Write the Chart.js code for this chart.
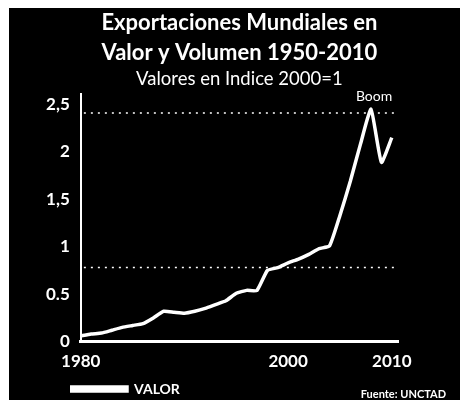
<!DOCTYPE html>
<html>
<head>
<meta charset="utf-8">
<script src="https://cdn.jsdelivr.net/npm/chart.js@4.4.0/dist/chart.umd.min.js"></script>
<style>
  html, body { margin: 0; padding: 0; background: #fff; width: 460px; height: 400px; overflow: hidden; }
  #wrap { position: absolute; left: 9px; top: 8px; width: 451px; height: 392px; background: #000; }
  canvas { display: block; }
</style>
</head>
<body>
<div id="wrap"><canvas id="c" width="451" height="392"></canvas></div>
<script>
// ---- data ----
const years = [1980,1981,1982,1983,1984,1985,1986,1987,1988,1989,1990,1991,1992,1993,1994,1995,1996,1997,1998,1999,2000,2001,2002,2003,2004,2005,2006,2007,2008,2009,2010];
const valor = [0.06,0.08,0.09,0.12,0.15,0.17,0.19,0.25,0.32,0.31,0.30,0.32,0.35,0.39,0.43,0.51,0.54,0.54,0.75,0.78,0.83,0.87,0.92,0.98,1.01,1.33,1.69,2.09,2.45,1.89,2.15];
const refYears = [1980.3, 2010.6];
const refUpper = [2.41, 2.41];
const refLower = [0.78, 0.78];
const xTickValues = [1980, 2000, 2010];
const xTickLabels = ['1980', '2000', '2010'];
const yTickValues = [0, 0.5, 1, 1.5, 2, 2.5];
const yTickLabels = ['0', '0.5', '1', '1,5', '2', '2,5'];
const titleLines = ['Exportaciones Mundiales en', 'Valor y Volumen 1950-2010'];
const subtitleText = 'Valores en Indice 2000=1';
const seriesName = 'VALOR';
const peakLabel = 'Boom';
const sourceText = 'Fuente: UNCTAD';

const toXY = (xs, ys) => xs.map((x, i) => ({x: x, y: ys[i]}));

const annotations = {
  id: 'annotations',
  afterLayout(chart) {
    // indent the legend row like the original
    if (chart.legend) { chart.legend.left += 35; }
  },
  afterDatasetsDraw(chart) {
    const {ctx, scales} = chart;
    // peak label
    let mi = 0;
    valor.forEach((v, i) => { if (v > valor[mi]) mi = i; });
    const px = scales.x.getPixelForValue(years[mi]);
    const py = scales.y.getPixelForValue(valor[mi]);
    ctx.save();
    ctx.fillStyle = '#fff';
    ctx.font = '14px Lato';
    ctx.textAlign = 'center';
    ctx.textBaseline = 'bottom';
    ctx.fillText(peakLabel, px + 3, py - 6);
    // source
    ctx.font = 'bold 11px Lato';
    ctx.textAlign = 'right';
    ctx.textBaseline = 'middle';
    ctx.fillText(sourceText, chart.width - 14, chart.height - 6);
    ctx.restore();
  }
};

new Chart(document.getElementById('c'), {
  type: 'line',
  data: {
    datasets: [
      {
        label: seriesName,
        data: toXY(years, valor),
        borderColor: '#fff',
        backgroundColor: '#fff',
        borderWidth: 3.5,
        pointRadius: 0,
        tension: 0.15
      },
      {
        label: 'ref1',
        data: toXY(refYears, refUpper),
        borderColor: '#fff',
        borderWidth: 1.5,
        borderDash: [2, 5],
        pointRadius: 0
      },
      {
        label: 'ref2',
        data: toXY(refYears, refLower),
        borderColor: '#fff',
        borderWidth: 1.5,
        borderDash: [2, 5],
        pointRadius: 0
      }
    ]
  },
  options: {
    responsive: false,
    animation: false,
    layout: { padding: { left: 26, right: 62, top: 0, bottom: -6 } },
    plugins: {
      title: {
        display: true,
        fullSize: false,
        text: titleLines,
        color: '#fff',
        font: { family: 'Lato', size: 22, weight: 'bold', lineHeight: 1.36 },
        padding: { top: 0, bottom: 0 }
      },
      subtitle: {
        display: true,
        fullSize: false,
        text: subtitleText,
        color: '#fff',
        font: { family: 'Lato', size: 18.5, weight: 'normal' },
        padding: { top: 0, bottom: 4 }
      },
      legend: {
        position: 'bottom',
        align: 'start',
        labels: {
          color: '#fff',
          font: { family: 'Lato', size: 14, weight: 'bold' },
          boxWidth: 57,
          boxHeight: 4,
          padding: 0,
          filter: (item) => item.text === seriesName
        }
      },
      tooltip: { enabled: false }
    },
    scales: {
      x: {
        type: 'linear',
        min: 1980,
        max: 2010.6,
        grid: { display: false, drawTicks: false },
        border: { display: true, color: '#fff', width: 3 },
        afterBuildTicks: (axis) => { axis.ticks = xTickValues.map(v => ({value: v})); },
        ticks: {
          color: '#fff',
          font: { family: 'Lato', size: 17, weight: 'bold' },
          padding: 10,
          maxRotation: 0,
          callback: (v) => { const i = xTickValues.indexOf(v); return i >= 0 ? xTickLabels[i] : ''; }
        }
      },
      y: {
        min: 0,
        max: 2.61,
        grid: { display: false, drawTicks: false },
        border: { display: true, color: '#fff', width: 2 },
        afterBuildTicks: (axis) => { axis.ticks = yTickValues.map(v => ({value: v})); },
        ticks: {
          color: '#fff',
          font: { family: 'Lato', size: 17, weight: 'bold' },
          padding: 11,
          callback: (v) => { const i = yTickValues.indexOf(v); return i >= 0 ? yTickLabels[i] : ''; }
        }
      }
    }
  },
  plugins: [annotations]
});
</script>
</body>
</html>
